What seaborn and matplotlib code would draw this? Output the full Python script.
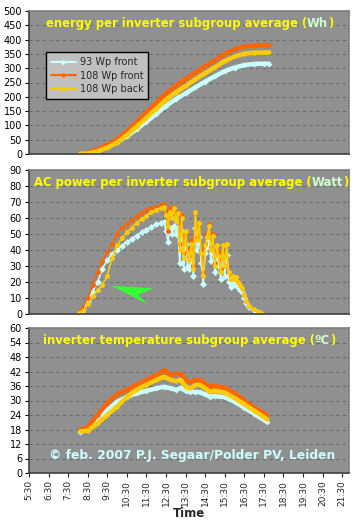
import pandas as pd
import matplotlib
matplotlib.use('Agg')
import matplotlib.pyplot as plt
import seaborn as sns
from matplotlib.patches import Polygon

# series names / colours (legend order)
series = ['93 Wp front', '108 Wp front', '108 Wp back']
colors = ['#ccffff', '#ff6600', '#ffcc00']
marks = ['D', 'o', 'o']

# energy (Wh), cumulative
t_energy = [8.1, 8.5, 9.0, 9.5, 10.0, 10.5, 11.0, 11.5, 12.0, 12.5, 13.0, 13.5,
            14.0, 14.5, 15.0, 15.5, 16.0, 16.5, 17.0, 17.5, 17.75]
energy_93f = [0, 3, 11, 24, 41, 62, 87, 113, 140, 168, 192, 212,
              233, 253, 272, 290, 302, 311, 315, 316, 316]
energy_108f = [0, 4, 16, 32, 51, 80, 112, 145, 178, 212, 238, 262,
               285, 307, 327, 350, 366, 376, 379, 380, 380]
energy_108b = [0, 2, 10, 22, 40, 66, 96, 127, 158, 190, 215, 238,
               261, 283, 303, 325, 341, 351, 354, 355, 355]

# AC power (Watt)
t_power = [8.05, 8.25, 8.5, 8.75, 9.0, 9.25, 9.5, 9.75, 10.0, 10.25, 10.5, 10.75,
           11.0, 11.25, 11.5, 11.75, 12.0, 12.25, 12.4,
           12.5, 12.6, 12.7, 12.8, 12.9, 13.0, 13.1, 13.2, 13.3, 13.4, 13.5, 13.6,
           13.7, 13.8, 13.9, 14.0, 14.1, 14.2, 14.3, 14.4, 14.5, 14.6, 14.7, 14.8,
           14.9, 15.0, 15.1, 15.2, 15.3, 15.4, 15.5, 15.6, 15.7, 15.8, 15.9, 16.0,
           16.1, 16.2, 16.3, 16.4, 16.5, 16.6, 16.75, 17.0, 17.2, 17.35]
power_93f = [0.5, 3, 8, 14, 20, 28, 34, 37.5, 40, 42.5, 45, 47,
             49, 51, 52.5, 54.5, 56, 57, 57.5,
             52, 45, 54, 50, 55, 50, 54, 32, 52, 28, 44, 30,
             28, 36, 24, 54, 40, 48, 32, 19, 38, 42, 46, 33,
             42, 26, 36, 30, 22, 36, 24, 37, 20, 17, 20, 18,
             19, 17, 15, 14, 10, 7, 4.5, 2.5, 1, 0.5]
power_108f = [1, 4, 10, 18, 26, 33, 39, 44, 50, 54, 56.5, 58.5,
              61, 63, 65, 66, 67, 68, 69,
              64, 52, 66, 63, 67, 60, 64, 44, 62, 38, 50, 40,
              36, 46, 30, 64, 48, 57, 40, 26, 44, 50, 56, 42,
              50, 32, 43, 38, 28, 43, 30, 44, 26, 22, 24, 22,
              23, 20, 18, 16, 12, 8, 5, 3, 1.5, 0.5]
power_108b = [0.5, 2, 6, 11, 15, 18, 24, 35, 43, 47.5, 51, 54,
              57, 59.5, 61.5, 63.5, 65, 66.5, 67,
              62, 55, 64, 60, 66, 58, 63, 40, 60, 35, 52, 38,
              34, 44, 28, 64, 46, 57, 38, 24, 43, 48, 55, 40,
              49, 30, 43, 36, 26, 43, 30, 44, 26, 22, 24, 22,
              23, 20, 18, 16, 12, 8, 5, 3, 1.5, 0.5]

# inverter temperature (deg C)
t_temp = [8.1, 8.5, 9.0, 9.5, 10.0, 10.5, 11.0, 11.5, 12.0, 12.4, 12.75, 13.0,
          13.25, 13.5, 13.75, 14.0, 14.25, 14.5, 14.75, 15.0, 15.5, 16.0, 16.5,
          17.0, 17.65]
temp_93f = [17, 18, 22, 26, 29.5, 31.5, 33, 34, 35, 35.7, 35, 34.5,
            35.2, 34, 33.5, 33.6, 33.4, 32.5, 31.6, 31.8, 31.4, 29.5, 27,
            24.5, 21.2]
temp_108f = [17.8, 19, 24, 29, 32.5, 34.5, 36.5, 38.5, 40.5, 42.5, 40.5, 41,
             41, 38.5, 37.5, 38.5, 38.5, 37, 35.7, 36, 35.3, 33, 30,
             27, 24]
temp_108b = [17.2, 17.5, 20.5, 24, 27.5, 31.5, 34.5, 36.5, 38.5, 39.8, 38.5, 38,
             38.5, 35.7, 35, 36.4, 36.4, 35, 33.6, 34, 33.3, 31, 28.5,
             25.8, 22.3]

tick_pos = [h + 0.5 for h in range(5, 22)]
tick_labels = [f'{h}:30' for h in range(5, 22)]

# green arrow drawn on the power chart (time, watt)
arrow_pts = [(9.70, 17.7), (11.83, 16.1), (11.06, 11.9), (11.57, 6.0)]


def long_df(t, a, b, c):
    frames = []
    for name, v in zip(series, [a, b, c]):
        frames.append(pd.DataFrame({'t': t, 'val': v, 'series': name}))
    return pd.concat(frames, ignore_index=True)


sns.set_theme(style='ticks')
plt.rcParams['font.family'] = ['DejaVu Sans']

fig = plt.figure(figsize=(3.6, 5.2), dpi=100)
fig.patch.set_facecolor('white')
ax1 = fig.add_axes([29 / 360, 1 - 154 / 520, 320 / 360, 143 / 520])
ax2 = fig.add_axes([29 / 360, 1 - 314 / 520, 320 / 360, 144 / 520])
ax3 = fig.add_axes([29 / 360, 1 - 473 / 520, 320 / 360, 145 / 520])

pal = dict(zip(series, colors))
mk = dict(zip(series, marks))

panels = [
    (ax1, long_df(t_energy, energy_93f, energy_108f, energy_108b), 3.2, 3, 500, 50,
     'energy per inverter subgroup average (', 'Wh', 0.053),
    (ax2, long_df(t_power, power_93f, power_108f, power_108b), 1.2, 3.5, 90, 10,
     'AC power per inverter subgroup average (', 'Watt', 0.015),
    (ax3, long_df(t_temp, temp_93f, temp_108f, temp_108b), 3.2, 3, 60, 6,
     'inverter temperature subgroup average (', 'ºC', 0.043),
]

for i, (ax, df, lw, ms, ymax, ystep, title, unit, tx) in enumerate(panels):
    sns.lineplot(data=df, x='t', y='val', hue='series', style='series',
                 palette=pal, markers=mk, dashes=False, estimator=None, sort=False,
                 lw=lw, markersize=ms, markeredgewidth=0, ax=ax, legend=(i == 0))
    ax.set_facecolor('#909090')
    ax.set_xlim(5.5, 21.85)
    ax.set_ylim(0, ymax)
    ax.set_yticks(range(0, ymax + 1, ystep))
    ax.yaxis.grid(True, color='#6c6c6c', ls=(0, (3, 3)), lw=0.8)
    ax.set_axisbelow(True)
    ax.set_xlabel('')
    ax.set_ylabel('')
    for s in ax.spines.values():
        s.set_color('#808080')
        s.set_linewidth(1.2)
    ax.spines['bottom'].set_color('#404040')
    ax.spines['left'].set_color('#404040')
    ax.tick_params(axis='y', direction='out', length=3, width=0.8, labelsize=7,
                   pad=2, colors='black')
    t1 = ax.text(tx, 0.96, title, transform=ax.transAxes, color='#ffff00',
                 fontsize=8.4, fontweight='bold', va='top', ha='left')
    t2 = ax.annotate(unit, xy=(1, 0), xycoords=t1, va='bottom', ha='left',
                     color='#ccffcc', fontsize=8.4, fontweight='bold')
    ax.annotate(')', xy=(1, 0), xycoords=t2, va='bottom', ha='left',
                color='#ffff00', fontsize=8.4, fontweight='bold')

for ax in (ax1, ax2):
    ax.set_xticks([])

ax3.set_xticks(tick_pos)
ax3.set_xticklabels(tick_labels, rotation=90, fontsize=6.5)
ax3.tick_params(axis='x', direction='out', length=3, width=0.8, pad=2)
ax3.set_xlabel('Time', fontsize=8.5, fontweight='bold', labelpad=1)

leg = ax1.legend(loc='upper left', bbox_to_anchor=(0.037, 0.745), fontsize=7,
                 frameon=True, fancybox=False, facecolor='#c0c0c0', edgecolor='black',
                 framealpha=1, handlelength=2.6, borderpad=0.5, labelspacing=0.35,
                 handletextpad=0.4)
leg.get_frame().set_linewidth(1.0)
for h in leg.get_lines():
    h.set_linewidth(1.5)
    h.set_markersize(3)

ax2.add_patch(Polygon(arrow_pts, closed=True, facecolor='#33ff33', edgecolor='none'))

ax3.text(0.062, 0.075, '© feb. 2007 P.J. Segaar/Polder PV, Leiden', transform=ax3.transAxes,
         color='#ccffff', fontsize=8.8, fontweight='bold', va='bottom', ha='left')

fig.savefig('out.png', dpi=100, facecolor='white')
